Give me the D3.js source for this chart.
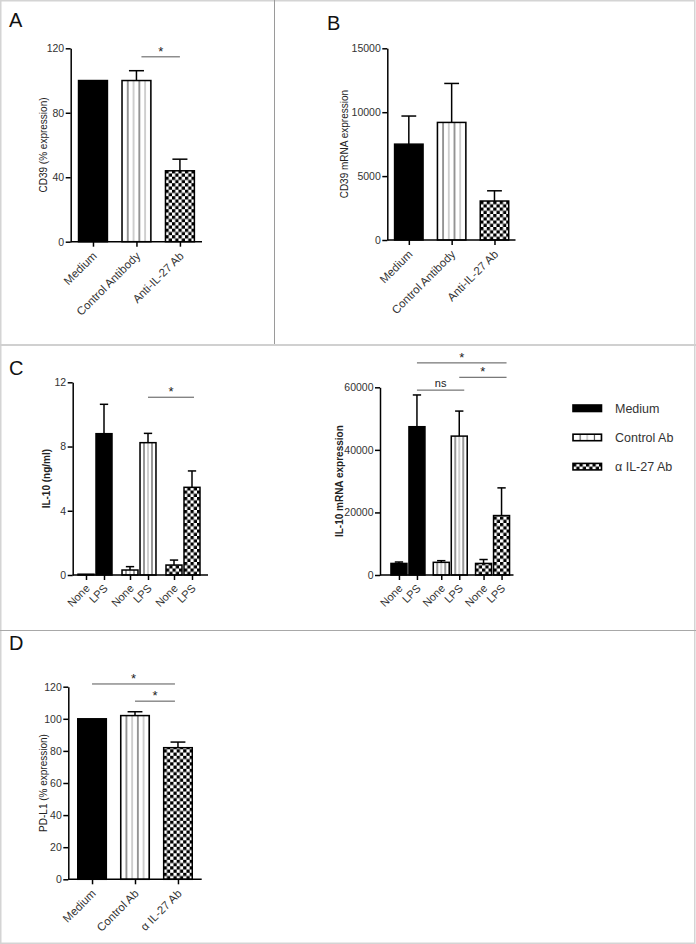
<!DOCTYPE html>
<html>
<head>
<meta charset="utf-8">
<script src="https://cdn.jsdelivr.net/npm/d3@7"></script>
<style>
  html, body { margin: 0; padding: 0; background: #fff; }
  svg { display: block; font-family: "Liberation Sans", Arial, sans-serif; }
</style>
</head>
<body>
<svg id="fig" width="696" height="944"></svg>
<script>
// ---------------- data ----------------
const groupsAB = ["Medium", "Control Antibody", "Anti-IL-27 Ab"];
const groupsD = ["Medium", "Control Ab", "α IL-27 Ab"];
const legendGroups = ["Medium", "Control Ab", "α IL-27 Ab"];
const treatments = ["None", "LPS"];

const cd39Pct = [100, 100, 44];
const cd39PctErr = [0, 6.1, 7.2];
const cd39Mrna = [7500, 9200, 3050];
const cd39MrnaErr = [2200, 3050, 800];

// IL-10 protein (ng/ml): per group [None, LPS]
const il10MediumNg = [0.05, 8.8];
const il10ControlNg = [0.31, 8.24];
const il10AntiNg = [0.62, 5.46];
const il10MediumNgErr = [0, 1.83];
const il10ControlNgErr = [0.21, 0.58];
const il10AntiNgErr = [0.31, 1.02];

// IL-10 mRNA expression: per group [None, LPS]
const il10MediumMrna = [3700, 47400];
const il10ControlMrna = [4050, 44400];
const il10AntiMrna = [3700, 19000];
const il10MediumMrnaErr = [450, 10150];
const il10ControlMrnaErr = [530, 8000];
const il10AntiMrnaErr = [1250, 8850];

const pdl1Pct = [100, 102, 82];
const pdl1PctErr = [0, 2.4, 3.5];

const ticksA = [0, 40, 80, 120];
const ticksB = [0, 5000, 10000, 15000];
const ticksCL = [0, 4, 8, 12];
const ticksCR = [0, 20000, 40000, 60000];
const ticksD = [0, 20, 40, 60, 80, 100, 120];

// significance brackets: [fromBarIndex, toBarIndex, yValue, label]
const sigA = [[1, 2, 114.7, "*"]];
const sigCL = [[3, 5, 11.07, "*"]];
const sigCR = [[1, 5, 67800, "*"], [3, 5, 63200, "*"], [1, 3, 59100, "ns"]];
const sigD = [[0, 2, 121.7, "*"], [1, 2, 111, "*"]];

// ---------------- drawing ----------------
const svg = d3.select("#fig");
const defs = svg.append("defs");
let patId = 0;

function fillFor(kind, x, y0, w, nStripes) {
  if (kind === 0) return "#000";
  const id = "p" + (patId++);
  if (kind === 1) {
    const step = w / nStripes;
    const p = defs.append("pattern").attr("id", id)
      .attr("patternUnits", "userSpaceOnUse")
      .attr("x", x).attr("y", 0).attr("width", step * 2).attr("height", 10);
    p.append("rect").attr("width", step * 2).attr("height", 10).attr("fill", "#fff");
    p.append("line").attr("x1", step).attr("x2", step).attr("y1", 0).attr("y2", 10)
      .attr("stroke", "#444").attr("stroke-width", 1.1);
    p.append("line").attr("x1", step * 2).attr("x2", step * 2).attr("y1", 0).attr("y2", 10)
      .attr("stroke", "#aaa").attr("stroke-width", 1.1);
    p.append("line").attr("x1", 0).attr("x2", 0).attr("y1", 0).attr("y2", 10)
      .attr("stroke", "#aaa").attr("stroke-width", 1.1);
    return `url(#${id})`;
  }
  const s = 3.25;
  const p = defs.append("pattern").attr("id", id)
    .attr("patternUnits", "userSpaceOnUse")
    .attr("x", x).attr("y", y0).attr("width", s * 2).attr("height", s * 2);
  p.append("rect").attr("width", s * 2).attr("height", s * 2).attr("fill", "#fff");
  p.append("rect").attr("width", s).attr("height", s).attr("fill", "#000");
  p.append("rect").attr("x", s).attr("y", s).attr("width", s).attr("height", s).attr("fill", "#000");
  return `url(#${id})`;
}

function drawPanel(cfg) {
  const g = svg.append("g");
  const y = d3.scaleLinear().domain([0, cfg.max]).range([cfg.y0, cfg.y1]);

  // bars
  cfg.bars.forEach(b => {
    const top = y(b.value);
    const cx = b.x + b.w / 2;
    if (b.err > 0) {
      const et = y(b.value + b.err);
      g.append("line").attr("x1", cx).attr("x2", cx).attr("y1", top).attr("y2", et)
        .attr("stroke", "#000").attr("stroke-width", 1.5);
      g.append("line").attr("x1", cx - b.w * 0.26).attr("x2", cx + b.w * 0.26)
        .attr("y1", et).attr("y2", et).attr("stroke", "#000").attr("stroke-width", 1.5);
    }
    g.append("rect").attr("x", b.x).attr("y", top)
      .attr("width", b.w).attr("height", Math.max(0.5, cfg.y0 - top))
      .attr("fill", fillFor(b.kind, b.x, cfg.y0, b.w, b.stripes))
      .attr("stroke", "#000").attr("stroke-width", 1.5);
  });

  // y axis
  const ya = g.append("g").attr("transform", `translate(${cfg.axisX},0)`)
    .call(d3.axisLeft(y).tickValues(cfg.ticks).tickSize(5).tickSizeOuter(0)
      .tickFormat(d3.format("d")));
  ya.select(".domain").attr("stroke", "#000").attr("stroke-width", 1.5);
  ya.selectAll(".tick line").attr("stroke", "#000").attr("stroke-width", 1.5);
  ya.selectAll(".tick text").attr("font-size", 10.5).attr("fill", "#333")
    .attr("font-family", "Liberation Sans, Arial, sans-serif").attr("x", -6.5);

  // x axis
  g.append("line").attr("x1", cfg.axisX).attr("x2", cfg.axisEnd)
    .attr("y1", cfg.y0).attr("y2", cfg.y0).attr("stroke", "#000").attr("stroke-width", 1.5);
  const xs = d3.scaleOrdinal().domain(cfg.bars.map((b, i) => i))
    .range(cfg.bars.map(b => b.x + b.w / 2));
  const xa = g.append("g").attr("transform", `translate(0,${cfg.y0})`)
    .call(d3.axisBottom(xs).tickSize(5).tickFormat(i => cfg.bars[i].label));
  xa.select(".domain").remove();
  xa.selectAll(".tick line").attr("stroke", "#000").attr("stroke-width", 1.5);
  xa.selectAll(".tick text").attr("font-size", cfg.xFont).attr("fill", "#333")
    .attr("font-family", "Liberation Sans, Arial, sans-serif")
    .attr("text-anchor", "end").attr("dy", null).attr("y", null)
    .attr("transform", `translate(${cfg.xdx},${cfg.xdy}) rotate(-45)`);

  // y label
  g.append("text").attr("transform", `translate(${cfg.labelX},${(cfg.y0 + cfg.y1) / 2}) rotate(-90)`)
    .attr("text-anchor", "middle").attr("font-size", cfg.labelSize).attr("fill", "#222")
    .attr("font-weight", cfg.labelBold ? "bold" : "normal")
    .text(cfg.yLabel);

  // significance
  (cfg.sig || []).forEach(([a, b, v, lab]) => {
    const xa1 = cfg.bars[a].x + cfg.bars[a].w / 2 + (cfg.sigStartDx || 0);
    const xb1 = cfg.bars[b].x + cfg.bars[b].w / 2 + (cfg.sigEndDx || 0);
    const yy = y(v);
    g.append("line").attr("x1", xa1).attr("x2", xb1).attr("y1", yy).attr("y2", yy)
      .attr("stroke", "#555").attr("stroke-width", 1);
    g.append("text").attr("x", (xa1 + xb1) / 2).attr("y", lab === "*" ? yy - 1 : yy - 3)
      .attr("text-anchor", "middle").attr("font-size", lab === "*" ? 13 : 11)
      .attr("fill", "#222").text(lab);
  });

  // panel letter
  svg.append("text").attr("x", cfg.letterX).attr("y", cfg.letterY)
    .attr("font-size", 20).attr("fill", "#111").text(cfg.letter);
}

function simpleBars(cats, vals, errs, axisX, endX, po) {
  const x = d3.scaleBand().domain(cats).range([axisX, endX]).paddingInner(0.335).paddingOuter(po);
  return cats.map((c, i) => ({ x: x(c), w: x.bandwidth(), value: vals[i], err: errs[i],
    kind: i, stripes: 5, label: c }));
}

function groupedBars(vals, errs, axisX, endX) {
  const outer = d3.scaleBand().domain(legendGroups).range([axisX, endX]);
  const inner = d3.scaleBand().domain(treatments).range([-17, 17]).paddingInner(2 / 18);
  const out = [];
  legendGroups.forEach((gname, gi) => {
    treatments.forEach((t, ti) => {
      out.push({ x: outer(gname) + outer.bandwidth() / 2 + inner(t), w: inner.bandwidth(),
        value: vals[gi][ti], err: errs[gi][ti], kind: gi, stripes: 4, label: t });
    });
  });
  return out;
}

// Panel A
drawPanel({
  letter: "A", letterX: 9, letterY: 27,
  axisX: 70.7, axisEnd: 202, y0: 241.7, y1: 48.3, max: 120, ticks: ticksA,
  bars: simpleBars(groupsAB, cd39Pct, cd39PctErr, 70.7, 202.2, 0.18),
  yLabel: "CD39 (% expression)", labelX: 46.5, labelSize: 10, labelBold: false,
  xFont: 11.5, xdx: 4, xdy: 15, sig: sigA, sigStartDx: 5
});

// Panel B
drawPanel({
  letter: "B", letterX: 327, letterY: 30,
  axisX: 387.3, axisEnd: 515.5, y0: 240, y1: 48.3, max: 15000, ticks: ticksB,
  bars: simpleBars(groupsAB, cd39Mrna, cd39MrnaErr, 387.3, 516, 0.17),
  yLabel: "CD39 mRNA expression", labelX: 347.5, labelSize: 10, labelBold: false,
  xFont: 11.5, xdx: 4, xdy: 15
});

// Panel C left
drawPanel({
  letter: "C", letterX: 9, letterY: 375,
  axisX: 72.7, axisEnd: 208, y0: 575, y1: 382.3, max: 12, ticks: ticksCL,
  bars: groupedBars([il10MediumNg, il10ControlNg, il10AntiNg],
    [il10MediumNgErr, il10ControlNgErr, il10AntiNgErr], 73, 205),
  yLabel: "IL-10 (ng/ml)", labelX: 49.5, labelSize: 10, labelBold: true,
  xFont: 11, xdx: 4, xdy: 14, sig: sigCL, sigEndDx: 2
});

// Panel C right
drawPanel({
  letter: "", letterX: 0, letterY: 0,
  axisX: 380, axisEnd: 513.5, y0: 575, y1: 387.3, max: 60000, ticks: ticksCR,
  bars: groupedBars([il10MediumMrna, il10ControlMrna, il10AntiMrna],
    [il10MediumMrnaErr, il10ControlMrnaErr, il10AntiMrnaErr], 386.8, 513.7),
  yLabel: "IL-10 mRNA expression", labelX: 342.5, labelSize: 10, labelBold: true,
  xFont: 11, xdx: 4, xdy: 14, sig: sigCR, sigEndDx: 5
});

// Panel D
drawPanel({
  letter: "D", letterX: 9, letterY: 650,
  axisX: 68.3, axisEnd: 201.7, y0: 879.3, y1: 686.7, max: 120, ticks: ticksD,
  bars: simpleBars(groupsD, pdl1Pct, pdl1PctErr, 68.3, 201.7, 0.22),
  yLabel: "PD-L1 (% expression)", labelX: 46.5, labelSize: 10, labelBold: false,
  xFont: 11.5, xdx: 4, xdy: 15, sig: sigD, sigEndDx: -3
});

// Legend
const lg = svg.append("g");
legendGroups.forEach((name, i) => {
  const yy = 405 + i * 29.2;
  lg.append("rect").attr("x", 573).attr("y", yy).attr("width", 28.5).attr("height", 6.5)
    .attr("fill", fillFor(i, 573, yy + 6.5, 28.5, 4)).attr("stroke", "#000").attr("stroke-width", 1.6);
  lg.append("text").attr("x", 615).attr("y", yy + 3.3).attr("dy", "0.35em")
    .attr("font-size", 12.5).attr("fill", "#333").text(name);
});

// Frame lines
const frame = svg.append("g").attr("fill", "none");
frame.append("rect").attr("x", 0.75).attr("y", 0.75).attr("width", 694).attr("height", 942.5)
  .attr("stroke", "#d4d4d4").attr("stroke-width", 1.5);
frame.append("line").attr("x1", 274.5).attr("x2", 274.5).attr("y1", 0).attr("y2", 345)
  .attr("stroke", "#9a9a9a").attr("stroke-width", 1);
frame.append("line").attr("x1", 0).attr("x2", 696).attr("y1", 345).attr("y2", 345)
  .attr("stroke", "#d0d0d0").attr("stroke-width", 2);
frame.append("line").attr("x1", 0).attr("x2", 696).attr("y1", 630.5).attr("y2", 630.5)
  .attr("stroke", "#a8a8a8").attr("stroke-width", 1);
</script>
</body>
</html>
